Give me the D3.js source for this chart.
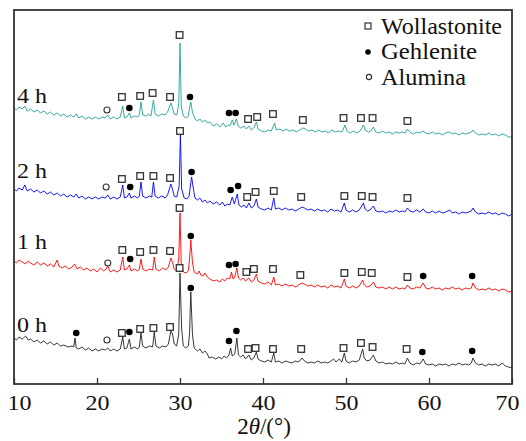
<!DOCTYPE html>
<html>
<head>
<meta charset="utf-8">
<script src="https://cdn.jsdelivr.net/npm/d3@7"></script>
<style>
  body { margin: 0; background: #fff; }
  svg text { font-family: "Liberation Serif", "Times New Roman", serif; fill: #111; }
</style>
</head>
<body>
<script>
const w = 526;
const h = 441;
const plotLeft = 14, plotRight = 512, plotTop = 10, plotBottom = 384;

// XRD patterns, [2theta, intensity a.u.] (traces already offset)
const xrd0h = [[10,46],[10.3,44],[10.6,47],[11,45],[11.4,48],[11.7,44],[12,45],[12.4,42],[12.8,44],[13.2,41],[13.6,43],[14,40],[14.4,42],[14.8,39],[15.2,41],[15.6,38],[16,39],[16.5,37],[17,38],[17.2,37],[17.35,46],[17.5,36],[17.8,35],[18.2,37],[18.6,34],[19,36],[19.4,33],[19.8,35],[20.2,33],[20.6,35],[21,34],[21.3,36],[21.6,33],[22,35],[22.4,33],[22.8,35],[23.1,47],[23.3,35],[23.6,36],[23.9,45],[24.1,35],[24.5,37],[24.9,35],[25.1,37],[25.3,51],[25.5,38],[25.9,36],[26.3,38],[26.7,37],[26.9,52],[27.1,38],[27.5,36],[27.9,38],[28.3,37],[28.6,40],[28.9,53],[29.1,50],[29.3,40],[29.6,38],[29.85,50],[30.0,111],[30.2,55],[30.4,38],[30.7,36],[31.0,38],[31.15,50],[31.3,92],[31.5,50],[31.7,36],[32.1,33],[32.4,35],[32.7,31],[33.0,33],[33.3,30],[33.5,26],[33.9,27],[34.3,25],[34.7,27],[35.0,25],[35.3,28],[35.6,26],[35.9,29],[36.1,36],[36.3,28],[36.6,30],[36.85,46],[37.05,29],[37.3,27],[37.6,29],[37.9,25],[38.3,29],[38.6,24],[38.9,26],[39.2,32],[39.4,25],[39.8,23],[40.2,22],[40.6,24],[41.0,22],[41.3,31],[41.5,22],[41.9,23],[42.3,21],[42.7,23],[43.1,22],[43.5,21],[43.9,23],[44.3,22],[44.7,26],[45.0,23],[45.4,21],[45.8,22],[46.2,21],[46.6,23],[47,21],[47.4,22],[47.8,21],[48.2,23],[48.5,25],[48.8,22],[49.2,25],[49.5,22],[49.8,31],[50.0,23],[50.4,21],[50.8,23],[51.2,22],[51.6,24],[52.0,35],[52.2,26],[52.5,23],[52.9,24],[53.3,29],[53.6,23],[54.0,21],[54.4,22],[54.8,20],[55.2,21],[55.6,20],[56,22],[56.4,20],[56.8,21],[57.1,20],[57.4,26],[57.7,21],[58.1,19],[58.5,21],[58.9,20],[59.3,25],[59.6,20],[60,19],[60.4,20],[60.8,18],[61.2,20],[61.6,19],[62,20],[62.4,18],[62.8,20],[63.2,19],[63.6,21],[64,19],[64.4,20],[64.8,19],[65.1,21],[65.3,26],[65.6,21],[66,19],[66.4,20],[66.8,18],[67.2,20],[67.6,19],[68,20],[68.4,18],[68.8,21],[69.2,18],[69.6,17],[70,16]];

const xrd1h = [[10,123],[10.3,121],[10.6,124],[11,122],[11.4,120],[11.7,123],[12,121],[12.4,119],[12.8,122],[13.2,119],[13.6,121],[14,118],[14.4,120],[14.8,117],[15.2,124],[15.4,118],[15.8,116],[16.2,118],[16.6,115],[17,117],[17.3,120],[17.6,115],[18,117],[18.4,114],[18.8,116],[19.2,113],[19.6,115],[20,112],[20.4,116],[20.8,113],[21.1,115],[21.3,118],[21.6,112],[22,114],[22.4,112],[22.8,114],[23.1,127],[23.3,114],[23.6,115],[23.9,119],[24.1,113],[24.5,115],[24.9,113],[25.1,115],[25.3,125],[25.5,115],[25.9,113],[26.3,115],[26.7,114],[26.9,127],[27.1,115],[27.5,113],[27.9,116],[28.3,114],[28.6,117],[28.9,126],[29.1,122],[29.3,115],[29.6,113],[29.85,125],[30.0,171],[30.15,120],[30.4,112],[30.7,111],[31.0,113],[31.15,125],[31.3,144],[31.5,122],[31.7,112],[32.1,110],[32.3,113],[32.5,109],[32.8,108],[33.0,111],[33.3,107],[33.6,105],[34.0,103],[34.4,104],[34.8,102],[35.1,105],[35.4,103],[35.7,106],[36.0,105],[36.2,112],[36.4,105],[36.6,107],[36.85,116],[37.05,106],[37.3,104],[37.6,106],[37.9,103],[38.3,106],[38.6,102],[38.9,104],[39.2,110],[39.4,103],[39.8,101],[40.2,100],[40.6,102],[41.0,99],[41.3,107],[41.5,99],[41.9,100],[42.3,98],[42.7,100],[43.1,98],[43.5,99],[43.9,97],[44.3,99],[44.7,101],[45.0,100],[45.4,98],[45.8,99],[46.2,97],[46.6,99],[47,97],[47.4,98],[47.8,96],[48.2,99],[48.6,97],[49,98],[49.4,96],[49.8,105],[50.0,98],[50.4,96],[50.8,98],[51.2,96],[51.6,98],[52.0,104],[52.2,99],[52.5,97],[52.9,98],[53.3,102],[53.6,97],[54.0,96],[54.4,97],[54.8,95],[55.2,97],[55.6,95],[56,97],[56.4,95],[56.8,96],[57.1,95],[57.4,99],[57.7,96],[58.1,95],[58.5,97],[58.9,96],[59.3,101],[59.6,96],[60,95],[60.4,97],[60.8,95],[61.2,96],[61.6,94],[62,96],[62.4,95],[62.8,97],[63.2,95],[63.6,96],[64,94],[64.4,96],[64.8,95],[65.1,96],[65.3,101],[65.6,96],[66,94],[66.4,95],[66.8,94],[67.2,96],[67.6,94],[68,95],[68.4,93],[68.8,95],[69.2,94],[69.6,92],[70,93]];

const xrd2h = [[10,195],[10.3,193],[10.6,196],[11,194],[11.3,199],[11.6,193],[12,195],[12.4,192],[12.8,194],[13.2,191],[13.6,193],[14,190],[14.4,192],[14.8,189],[15.2,191],[15.6,188],[16,190],[16.4,187],[16.8,189],[17.2,187],[17.5,190],[17.8,186],[18.2,188],[18.6,185],[19,187],[19.4,185],[19.8,187],[20.2,185],[20.6,187],[21,186],[21.3,189],[21.6,185],[22,187],[22.4,185],[22.8,187],[23.1,199],[23.3,186],[23.6,187],[23.9,191],[24.1,186],[24.5,188],[24.9,186],[25.1,188],[25.3,202],[25.5,188],[25.9,186],[26.3,188],[26.6,187],[26.8,202],[27.0,188],[27.4,186],[27.8,188],[28.2,186],[28.5,189],[28.9,200],[29.1,195],[29.3,188],[29.6,187],[29.9,198],[30.05,249],[30.2,195],[30.5,186],[30.8,185],[31.1,188],[31.25,198],[31.4,207],[31.6,196],[31.8,186],[32.1,184],[32.4,186],[32.7,182],[33.0,184],[33.3,181],[33.6,183],[34.0,180],[34.4,182],[34.8,179],[35.1,182],[35.4,178],[35.7,180],[36.0,179],[36.3,187],[36.55,180],[36.9,190],[37.1,179],[37.4,177],[37.7,179],[38.0,176],[38.3,181],[38.6,176],[38.9,178],[39.2,185],[39.4,177],[39.8,175],[40.2,174],[40.6,176],[41.0,174],[41.3,186],[41.5,175],[41.9,176],[42.3,174],[42.7,176],[43.1,174],[43.5,175],[43.9,173],[44.3,175],[44.7,177],[45.0,176],[45.4,174],[45.8,175],[46.2,173],[46.6,175],[47,173],[47.4,174],[47.8,172],[48.2,175],[48.6,173],[49,174],[49.4,172],[49.8,181],[50.0,174],[50.4,172],[50.8,174],[51.2,172],[51.6,174],[52.1,181],[52.3,175],[52.6,173],[52.9,174],[53.3,178],[53.6,173],[54.0,172],[54.4,173],[54.8,171],[55.2,173],[55.6,172],[56,174],[56.4,172],[56.8,173],[57.1,172],[57.4,176],[57.7,173],[58.1,172],[58.5,174],[58.9,172],[59.3,175],[59.6,172],[60,171],[60.4,173],[60.8,171],[61.2,173],[61.6,171],[62,172],[62.5,174],[62.8,171],[63.2,172],[63.6,170],[64,172],[64.4,171],[64.8,172],[65.1,173],[65.3,176],[65.6,172],[66,170],[66.4,171],[66.8,170],[67.2,172],[67.6,170],[68,171],[68.4,169],[68.8,171],[69.2,170],[69.6,168],[70,170]];

const xrd4h = [[10,276],[10.3,274],[10.6,277],[11,275],[11.3,278],[11.6,273],[12,275],[12.4,272],[12.8,274],[13.2,271],[13.6,273],[14,270],[14.4,272],[14.8,269],[15.2,271],[15.6,268],[16,270],[16.4,267],[16.8,269],[17.2,267],[17.5,270],[17.8,266],[18.2,268],[18.6,265],[19,267],[19.4,265],[19.8,267],[20.2,265],[20.6,267],[21,266],[21.3,269],[21.6,265],[22,267],[22.4,265],[22.8,267],[23.1,278],[23.3,266],[23.6,267],[23.9,271],[24.1,266],[24.5,268],[24.9,267],[25.1,269],[25.3,282],[25.5,269],[25.9,268],[26.2,270],[26.5,268],[26.8,284],[27.0,270],[27.4,268],[27.8,270],[28.2,269],[28.5,272],[28.9,281],[29.1,276],[29.3,270],[29.6,269],[29.85,280],[30.0,341],[30.15,278],[30.4,268],[30.7,266],[31.0,268],[31.15,276],[31.3,282],[31.5,272],[31.8,265],[32.1,263],[32.4,265],[32.7,262],[33.0,264],[33.3,261],[33.6,262],[34.0,258],[34.4,260],[34.8,257],[35.2,261],[35.5,257],[35.8,259],[36.0,258],[36.3,264],[36.5,259],[36.8,265],[37.0,258],[37.3,256],[37.7,258],[38.0,255],[38.3,258],[38.6,254],[38.9,256],[39.2,262],[39.4,255],[39.8,253],[40.2,252],[40.6,254],[41.0,253],[41.4,261],[41.6,254],[42.0,255],[42.4,253],[42.8,255],[43.2,253],[43.6,254],[44.0,252],[44.4,254],[44.8,256],[45.1,255],[45.5,253],[45.9,254],[46.3,252],[46.7,254],[47.1,252],[47.5,253],[47.9,251],[48.3,254],[48.7,252],[49.1,253],[49.5,252],[49.9,259],[50.1,253],[50.5,251],[50.9,253],[51.3,251],[51.7,253],[52.1,259],[52.3,254],[52.7,252],[53.0,253],[53.3,257],[53.6,252],[54.0,251],[54.4,253],[54.8,251],[55.2,252],[55.6,250],[56,252],[56.4,251],[56.8,252],[57.1,251],[57.4,255],[57.7,252],[58.1,250],[58.5,252],[58.9,251],[59.3,253],[59.6,251],[60,250],[60.4,252],[60.8,250],[61.2,251],[61.6,249],[62,251],[62.5,252],[62.8,250],[63.2,251],[63.6,249],[64,251],[64.4,250],[64.8,251],[65.1,252],[65.3,254],[65.6,251],[66,249],[66.4,250],[66.8,249],[67.2,251],[67.6,249],[68,250],[68.4,248],[68.8,250],[69.2,249],[69.6,247],[70,247]];

// phase markers, [2theta, intensity a.u.]
const wol0h = [[23.0,51],[25.2,55],[26.8,56],[28.8,57],[29.95,116],[38.2,35],[39.1,36],[41.2,35],[44.6,35],[49.7,36],[51.8,41],[53.2,37],[57.3,35]];
const geh0h = [[17.5,51],[23.9,52],[31.3,96],[35.9,43],[36.8,53],[59.2,32],[65.2,33]];
const alu0h = [[21.2,44]];
const wol1h = [[23.05,134],[25.2,132],[26.8,134],[28.8,133],[29.95,176],[38.0,112],[38.9,115],[41.2,115],[44.5,109],[49.8,111],[51.9,112],[53.1,111],[57.4,107]];
const geh1h = [[24.0,125],[31.3,148],[35.9,119],[36.7,120],[59.3,108],[65.2,108]];
const alu1h = [[21.3,121]];
const wol2h = [[23.0,205],[25.2,208],[26.8,208],[28.8,206],[30.0,253],[38.1,187],[39.1,192],[41.3,193],[44.6,187],[49.8,188],[51.9,188],[53.2,187],[57.4,186]];
const geh2h = [[24.0,197],[31.4,212],[36.1,194],[37.0,198]];
const alu2h = [[21.1,197]];
const wol4h = [[23.0,287],[25.2,288],[26.7,291],[28.8,287],[29.95,349],[38.2,265],[39.3,267],[41.2,270],[44.8,264],[49.7,266],[51.8,266],[53.2,266],[57.4,263]];
const geh4h = [[23.9,276],[31.2,287],[35.9,271],[36.7,271]];
const alu4h = [[21.2,274]];

const seriesNames = ["0 h", "1 h", "2 h", "4 h"];
const seriesColors = ["#222", "#ff0000", "#0000ff", "#23a09a"];
const seriesLabelY = [52, 135, 206, 281]; // a.u. where each label baseline sits
const legendNames = ["Wollastonite", "Gehlenite", "Alumina"];
const xTicks = [10, 20, 30, 40, 50, 60, 70];

const traces = [xrd0h, xrd1h, xrd2h, xrd4h];
const wolMarks = [wol0h, wol1h, wol2h, wol4h];
const gehMarks = [geh0h, geh1h, geh2h, geh4h];
const aluMarks = [alu0h, alu1h, alu2h, alu4h];

const serif = "'Liberation Serif', 'Times New Roman', serif";

const svg = d3.select("body").append("svg")
  .attr("width", w)
  .attr("height", h)
  .attr("font-family", serif);

const xScale = d3.scaleLinear().domain([10, 70]).range([plotLeft, plotRight]);
const yScale = d3.scaleLinear().domain([0, 374]).range([plotBottom, plotTop]);

const line = d3.line().x(d => xScale(d[0])).y(d => yScale(d[1]));

// traces
svg.selectAll("path.trace")
  .data(traces)
  .enter()
  .append("path")
  .attr("class", "trace")
  .attr("d", line)
  .attr("fill", "none")
  .attr("stroke", (d, i) => seriesColors[i])
  .attr("stroke-width", 0.9)
  .attr("stroke-linejoin", "round");

// markers
const markG = svg.append("g").attr("stroke", "#333").attr("stroke-width", 1.3);
wolMarks.flat().forEach(d => {
  markG.append("rect")
    .attr("x", xScale(d[0]) - 3.3)
    .attr("y", yScale(d[1]) - 3.3)
    .attr("width", 6.6)
    .attr("height", 6.6)
    .attr("fill", "#fff");
});
gehMarks.flat().forEach(d => {
  markG.append("circle")
    .attr("cx", xScale(d[0]))
    .attr("cy", yScale(d[1]))
    .attr("r", 3.3)
    .attr("stroke", "none")
    .attr("fill", "#000");
});
aluMarks.flat().forEach(d => {
  markG.append("circle")
    .attr("cx", xScale(d[0]))
    .attr("cy", yScale(d[1]))
    .attr("r", 3)
    .attr("stroke-width", 1.1)
    .attr("fill", "#fff");
});

// series labels (the figure's text is a bit wide, so stretch it)
svg.selectAll("text.series")
  .data(seriesNames)
  .enter()
  .append("text")
  .attr("class", "series")
  .attr("x", 17)
  .attr("y", (d, i) => yScale(seriesLabelY[i]))
  .attr("textLength", 30)
  .attr("lengthAdjust", "spacingAndGlyphs")
  .style("font-family", serif)
  .style("font-size", "21px")
  .text(d => d);

// legend
const legend = svg.append("g").attr("transform", "translate(368,26)");
legend.append("rect").attr("x", -3).attr("y", -3).attr("width", 6).attr("height", 6)
  .attr("fill", "#fff").attr("stroke", "#333").attr("stroke-width", 1.2);
legend.append("circle").attr("cx", 0).attr("cy", 26).attr("r", 2.8).attr("fill", "#000");
legend.append("circle").attr("cx", 1).attr("cy", 51).attr("r", 2.6)
  .attr("fill", "#fff").attr("stroke", "#333").attr("stroke-width", 1.1);
const legendWidths = [121, 96, 85];
legend.selectAll("text")
  .data(legendNames)
  .enter()
  .append("text")
  .attr("x", 13)
  .attr("y", (d, i) => 7.5 + i * 25.5)
  .attr("textLength", (d, i) => legendWidths[i])
  .attr("lengthAdjust", "spacingAndGlyphs")
  .style("font-family", serif)
  .style("font-size", "23px")
  .text(d => d);

// x axis, ticks pointing inward
const xAxis = d3.axisBottom(xScale).tickValues(xTicks).tickSizeInner(-6).tickSizeOuter(0).tickPadding(10);
const ax = svg.append("g")
  .attr("transform", "translate(0," + plotBottom + ")")
  .call(xAxis)
  .attr("font-family", serif)
  .attr("font-size", 23);
ax.select(".domain").remove();
ax.selectAll(".tick line").attr("stroke", "#333").attr("stroke-width", 1.3);
ax.selectAll(".tick text")
  .style("font-family", serif)
  .style("font-size", "22px")
  .attr("fill", "#111")
  .attr("textLength", 24)
  .attr("lengthAdjust", "spacingAndGlyphs")
  .attr("dx", d => (d === 10 ? 5 : d === 70 ? -5 : 0));

// frame
svg.append("rect")
  .attr("x", plotLeft)
  .attr("y", plotTop)
  .attr("width", plotRight - plotLeft)
  .attr("height", plotBottom - plotTop)
  .attr("fill", "none")
  .attr("stroke", "#333")
  .attr("stroke-width", 1.8);

// x label 2θ/(°)
const xl = svg.append("text")
  .attr("x", 264)
  .attr("y", 434)
  .style("text-anchor", "middle")
  .style("font-family", serif)
  .style("font-size", "23px");
xl.append("tspan").text("2");
xl.append("tspan").style("font-style", "italic").text("θ");
xl.append("tspan").text("/(°)");
</script>
</body>
</html>
